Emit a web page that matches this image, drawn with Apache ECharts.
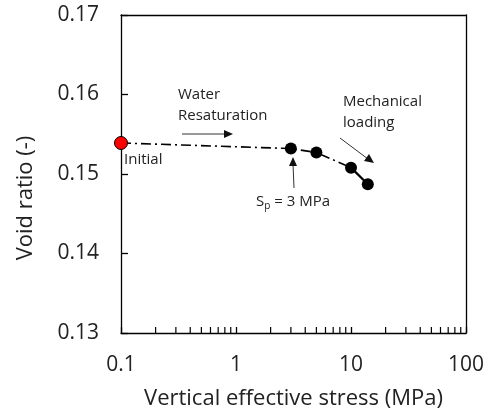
<!DOCTYPE html>
<html>
<head>
<meta charset="utf-8">
<script src="https://cdn.jsdelivr.net/npm/echarts@6/dist/echarts.min.js"></script>
<style>
  html, body { margin: 0; padding: 0; background: #fff; }
  #chart { width: 485px; height: 414px; }
</style>
</head>
<body>
<div id="chart"></div>
<script>
// values
const initialPoint = [[0.1, 0.1539]];
const resatPath = [[0.1, 0.1539], [3, 0.1532], [5, 0.1527], [10, 0.1508]];
const loadPath = [[10, 0.1508], [14, 0.1487]];
const blackPoints = [[3, 0.1532], [5, 0.1527], [10, 0.1508], [14, 0.1487]];
const minorTickValues = [0.2, 0.3, 0.4, 0.5, 0.6, 0.7, 0.8, 0.9,
    2, 3, 4, 5, 6, 7, 8, 9, 20, 30, 40, 50, 60, 70, 80, 90];
const xTickLabels = { 0.1: '0.1', 1: '1', 10: '10', 100: '100' };

const font = 'Open Sans';
const chart = echarts.init(document.getElementById('chart'));

const frameLine = { show: true, lineStyle: { color: '#000', width: 1.3 } };

const option = {
    backgroundColor: '#fff',
    animation: false,
    textStyle: { fontFamily: font },
    grid: { left: 121, right: 19, top: 15, bottom: 81, outerBoundsMode: 'none', containLabel: false },
    xAxis: [
        {
            type: 'log',
            logBase: 10,
            min: 0.1,
            max: 100,
            name: 'Vertical effective stress (MPa)',
            nameLocation: 'middle',
            nameGap: 55,
            nameTextStyle: { fontSize: 22, color: '#222', fontFamily: font },
            axisLine: frameLine,
            axisTick: { show: true, inside: true, length: 6, lineStyle: { color: '#000', width: 1.3 } },
            axisLabel: {
                fontSize: 21, color: '#222', margin: 22,
                formatter: v => xTickLabels[v] || ''
            },
            splitLine: { show: false }
        },
        {
            type: 'log', logBase: 10, min: 0.1, max: 100, position: 'top',
            axisLine: frameLine, axisTick: { show: false }, axisLabel: { show: false },
            splitLine: { show: false }
        }
    ],
    yAxis: [
        {
            type: 'value',
            min: 0.13,
            max: 0.17,
            interval: 0.01,
            axisLine: frameLine,
            axisTick: { show: true, inside: true, length: 7, lineStyle: { color: '#000', width: 1.3 } },
            axisLabel: {
                fontSize: 21, color: '#222', margin: 22,
                formatter: v => v.toFixed(2)
            },
            splitLine: { show: false }
        },
        {
            type: 'value', min: 0.13, max: 0.17, position: 'right',
            axisLine: frameLine, axisTick: { show: false }, axisLabel: { show: false },
            splitLine: { show: false }
        }
    ],
    graphic: [
        {
            type: 'text', x: 26, y: 198, rotation: Math.PI / 2,
            style: { text: 'Void ratio (-)', fontSize: 22, fill: '#222', fontFamily: font,
                align: 'center', verticalAlign: 'middle' }
        },
        { type: 'text', x: 124, y: 152, style: { text: 'Initial', fontSize: 15, fill: '#222', fontFamily: font } },
        { type: 'text', x: 178, y: 84, style: { text: 'Water\nResaturation', fontSize: 15, lineHeight: 21, fill: '#222', fontFamily: font } },
        { type: 'text', x: 343, y: 91, style: { text: 'Mechanical\nloading', fontSize: 15, lineHeight: 21, fill: '#222', fontFamily: font } },
        {
            type: 'text', x: 256, y: 193,
            style: {
                text: '{a|S}{b|p}{a| = 3 MPa}',
                fill: '#222', fontFamily: font,
                rich: {
                    a: { fontSize: 15, fontFamily: font, fill: '#222' },
                    b: { fontSize: 10, fontFamily: font, fill: '#222', padding: [8, 0, 0, 0] }
                }
            }
        },
        // arrows
        { type: 'line', shape: { x1: 182, y1: 134, x2: 226, y2: 134 }, style: { stroke: '#333', lineWidth: 1 } },
        { type: 'polygon', shape: { points: [[233, 134], [224, 130], [224, 138]] }, style: { fill: '#111' } },
        { type: 'line', shape: { x1: 294, y1: 188, x2: 293, y2: 164 }, style: { stroke: '#333', lineWidth: 1 } },
        { type: 'polygon', shape: { points: [[293, 157], [289, 166], [297, 166]] }, style: { fill: '#111' } },
        { type: 'line', shape: { x1: 340, y1: 138, x2: 368, y2: 159 }, style: { stroke: '#333', lineWidth: 1 } },
        { type: 'polygon', shape: { points: [[374, 163], [364, 161], [369, 154]] }, style: { fill: '#111' } }
    ],
    series: [
        {
            type: 'custom',
            silent: true,
            data: minorTickValues.map(v => [v]),
            encode: { x: 0 },
            renderItem: (params, api) => {
                const p = api.coord([api.value(0), 0.13]);
                return {
                    type: 'line',
                    shape: { x1: p[0], y1: p[1], x2: p[0], y2: p[1] - 6 },
                    style: { stroke: '#000', lineWidth: 1.2 }
                };
            },
            z: 1
        },
        {
            type: 'line',
            data: resatPath,
            symbol: 'none',
            lineStyle: { color: '#000', width: 1.6, type: [10, 4, 2, 4] },
            z: 2
        },
        {
            type: 'line',
            data: loadPath,
            symbol: 'none',
            lineStyle: { color: '#000', width: 2.2 },
            z: 2
        },
        {
            type: 'scatter',
            data: blackPoints,
            symbol: 'circle',
            symbolSize: 12,
            itemStyle: { color: '#000', opacity: 1 },
            z: 3
        },
        {
            type: 'scatter',
            data: initialPoint,
            symbol: 'circle',
            symbolSize: 13,
            itemStyle: { color: '#ff0000', borderColor: '#000', borderWidth: 1, opacity: 1 },
            clip: false,
            z: 4
        }
    ]
};

chart.setOption(option);
</script>
</body>
</html>
